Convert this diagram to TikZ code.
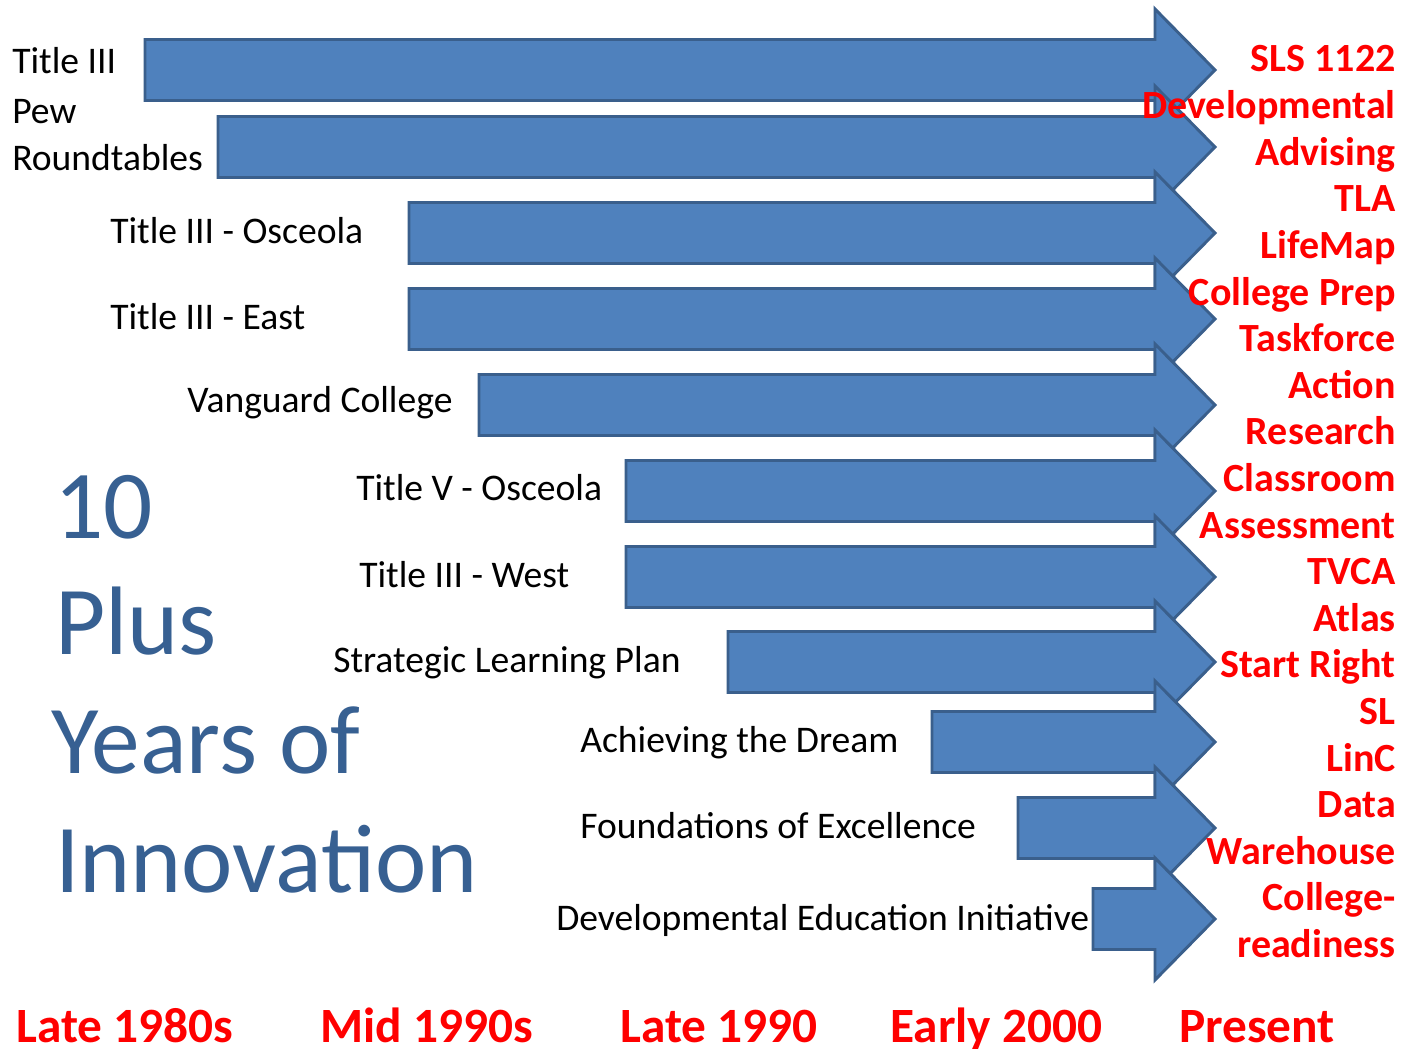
\documentclass[tikz,border=0pt]{standalone}
\usepackage{fontspec}
\setmainfont{Carlito}
\definecolor{arrowfill}{HTML}{4F81BD}
\definecolor{arrowline}{HTML}{3A5F8C}
\definecolor{titleblue}{HTML}{376092}
\definecolor{redtext}{HTML}{FF0000}
\tikzset{
  blockarrow/.style={fill=arrowfill, draw=arrowline, line width=2.2pt, line join=miter},
  leftlabel/.style={anchor=base west, inner sep=0pt, font=\fontsize{28.2}{30}\selectfont, text=black},
  outlabel/.style={anchor=base east, inner sep=0pt, font=\fontsize{30}{32}\selectfont\bfseries, text=redtext},
  eralabel/.style={anchor=base west, inner sep=0pt, font=\fontsize{37}{40}\selectfont\bfseries, text=redtext},
  bigtitle/.style={anchor=base west, inner sep=0pt, font=\fontsize{73}{80}\selectfont, text=titleblue}
}
\newcommand{\myarrow}[2]{%
  \draw[blockarrow] (#1,#2-30.5) -- (1155,#2-30.5) -- (1155,#2-61) -- (1215,#2)
    -- (1155,#2+61) -- (1155,#2+30.5) -- (#1,#2+30.5) -- cycle;}
\begin{document}
\begin{tikzpicture}[x=0.75pt,y=-0.75pt]
\useasboundingbox (0,0) rectangle (1410,1049);
% arrows
\myarrow{145}{70}
\myarrow{218}{147}
\myarrow{409}{233}
\myarrow{409}{319}
\myarrow{479}{405}
\myarrow{626}{491}
\myarrow{626}{577}
\myarrow{728}{662}
\myarrow{932}{742}
\myarrow{1018}{828}
\myarrow{1093}{919}
% left labels
\node[leftlabel] (l1) at (12,74) {Title III};
\node[leftlabel] (l2) at (12,123) {Pew};
\node[leftlabel] (l3) at (12,170) {Roundtables};
\node[leftlabel] (l4) at (110,243) {Title III - Osceola};
\node[leftlabel] (l5) at (110,329) {Title III - East};
\node[leftlabel] (l6) at (187,412) {Vanguard College};
\node[leftlabel] (l7) at (356,500) {Title V - Osceola};
\node[leftlabel] (l8) at (359,587) {Title III - West};
\node[leftlabel] (l9) at (333,672) {Strategic Learning Plan};
\node[leftlabel] (l10) at (580,752) {Achieving the Dream};
\node[leftlabel] (l11) at (580,838) {Foundations of Excellence};
\node[leftlabel] (l12) at (556,930) {Developmental Education Initiative};
% big title
\node[bigtitle] (t1) at (54,538) {10};
\node[bigtitle] (t2) at (55,654) {Plus};
\node[bigtitle] (t3) at (51,773) {Years of};
\node[bigtitle] (t4) at (55,892) {Innovation};
% outcomes
\foreach \txt [count=\i from 0] in {SLS 1122, Developmental, Advising, TLA, LifeMap, College Prep, Taskforce, Action, Research, Classroom, Assessment, TVCA, Atlas, Start Right, SL, LinC, Data, Warehouse, College-, readiness}
  \node[outlabel] (o\i) at (1396,72+46.6*\i) {\txt};
% eras
\node[eralabel] (e1) at (16,1042) {Late 1980s};
\node[eralabel] (e2) at (320,1042) {Mid 1990s};
\node[eralabel] (e3) at (620,1042) {Late 1990};
\node[eralabel] (e4) at (890,1042) {Early 2000};
\node[eralabel] (e5) at (1179,1042) {Present};
\end{tikzpicture}
\end{document}
